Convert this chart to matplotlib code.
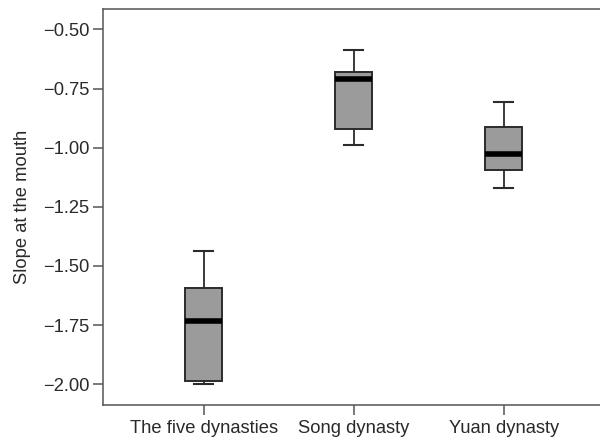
import matplotlib
matplotlib.use("Agg")
import matplotlib.pyplot as plt

plt.rcParams["font.family"] = ["Liberation Sans", "DejaVu Sans"]

# box statistics
groups = ["The five dynasties", "Song dynasty", "Yuan dynasty"]
whislo = [-2.00, -0.987, -1.170]
q1     = [-1.988, -0.922, -1.096]
med    = [-1.732, -0.708, -1.025]
q3     = [-1.594, -0.680, -0.913]
whishi = [-1.438, -0.586, -0.807]

stats = [dict(label=g, whislo=lo, q1=a, med=m, q3=b, whishi=hi, fliers=[])
         for g, lo, a, m, b, hi in zip(groups, whislo, q1, med, q3, whishi)]

EDGE = "#2b2b2b"
SPINE = "#555555"
TXT = "#2a2a2a"

fig = plt.figure(figsize=(6, 4.46), dpi=100)
ax = fig.add_axes([0.1725, 0.092, 0.834, 0.887])

ax.bxp(stats, positions=[1, 2, 3], widths=0.244, patch_artist=True,
       showfliers=False,
       boxprops=dict(facecolor="#9b9b9b", edgecolor=EDGE, linewidth=1.4),
       medianprops=dict(color="black", linewidth=4.0, solid_capstyle="butt"),
       whiskerprops=dict(color=EDGE, linewidth=1.3),
       capprops=dict(color=EDGE, linewidth=1.5),
       capwidths=0.125)

ax.set_xlim(0.333, 3.667)
ax.set_ylim(-2.088, -0.415)
ax.set_yticks([-0.5, -0.75, -1.0, -1.25, -1.5, -1.75, -2.0])
ax.set_yticklabels(["\u22120.50", "\u22120.75", "\u22121.00", "\u22121.25",
                    "\u22121.50", "\u22121.75", "\u22122.00"])
ax.set_xticks([1, 2, 3])
ax.set_xticklabels(groups)

for s in ax.spines.values():
    s.set_color(SPINE)
    s.set_linewidth(1.1)

ax.tick_params(axis="both", colors=SPINE, length=7, width=1.1,
               labelsize=13.2, labelcolor=TXT)
ax.tick_params(axis="y", pad=3)
ax.tick_params(axis="x", pad=4)

ax.set_ylabel("Slope at the mouth", fontsize=13.2, color=TXT, labelpad=9)

fig.savefig("out.png", dpi=100, facecolor="white")
